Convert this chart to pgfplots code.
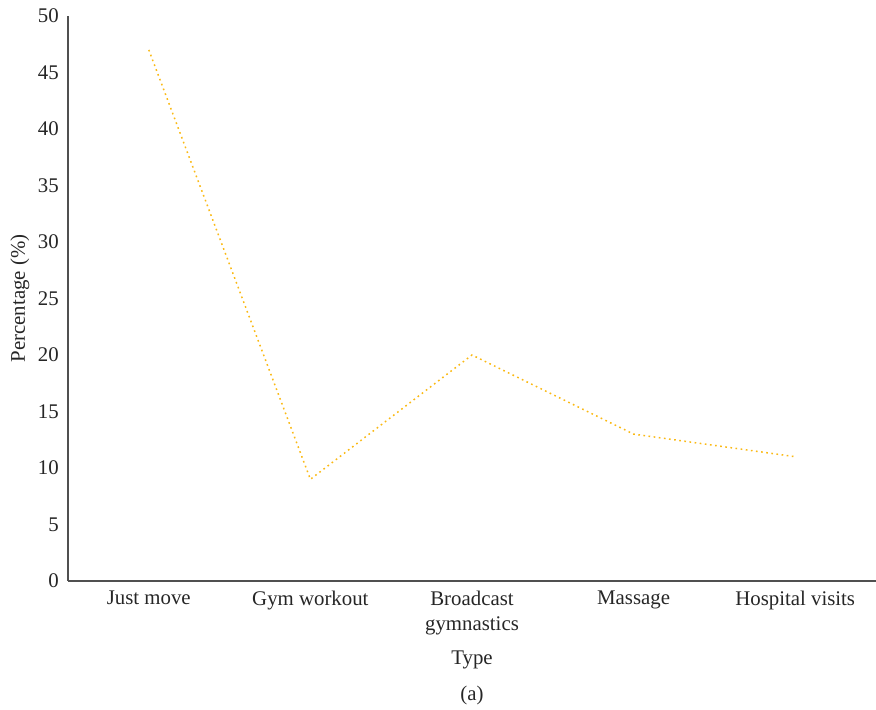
\documentclass[border=0pt]{standalone}
\usepackage{fontspec}
\setmainfont{Liberation Serif}
\usepackage{pgfplots}
\pgfplotsset{compat=1.18}
\definecolor{linegold}{RGB}{250,185,20}
\definecolor{axgray}{RGB}{80,80,80}
\begin{document}
\begin{tikzpicture}
\begin{axis}[
  at={(0,0)}, anchor=south west,
  scale only axis,
  width=484.8pt, height=339pt,
  xmin=-0.5, xmax=4.5,
  ymin=0, ymax=50,
  ytick={0,5,...,50},
  xtick={0,1,2,3,4},
  xticklabels={Just move, Gym workout, {Broadcast\\gymnastics}, Massage, Hospital visits},
  axis x line*=bottom,
  axis y line*=left,
  axis line style={axgray, line width=0.7pt},
  major tick length=0pt,
  tick style={draw=none},
  /pgf/number format/assume math mode=true,
  tick label style={font=\fontsize{12.5}{15}\selectfont, text=black!85},
  xticklabel style={align=center, anchor=north, yshift=-2.5pt},
  yticklabel style={anchor=east, xshift=-2pt},
  xlabel={Type},
  ylabel={Percentage (\%)},
  label style={font=\fontsize{12.5}{14}\selectfont, text=black!85},
  xlabel style={at={(rel axis cs:0.5,0)}, anchor=center, yshift=-47.4pt},
  ylabel style={at={(rel axis cs:0,0.5)}, anchor=center, yshift=28.8pt},
  clip=false,
]
\addplot[linegold, dash pattern=on 1pt off 2.1pt, line width=0.9pt] coordinates {
  (0,47) (1,9) (2,20) (3,13) (4,11)
};
\end{axis}
\node[font=\fontsize{12.5}{14}\selectfont, text=black!85] at (242.4pt,-68.4pt) {(a)};
\pgfresetboundingbox
\path (-40.8pt,-77.4pt) rectangle (484.8pt,348.6pt);
\end{tikzpicture}
\end{document}
